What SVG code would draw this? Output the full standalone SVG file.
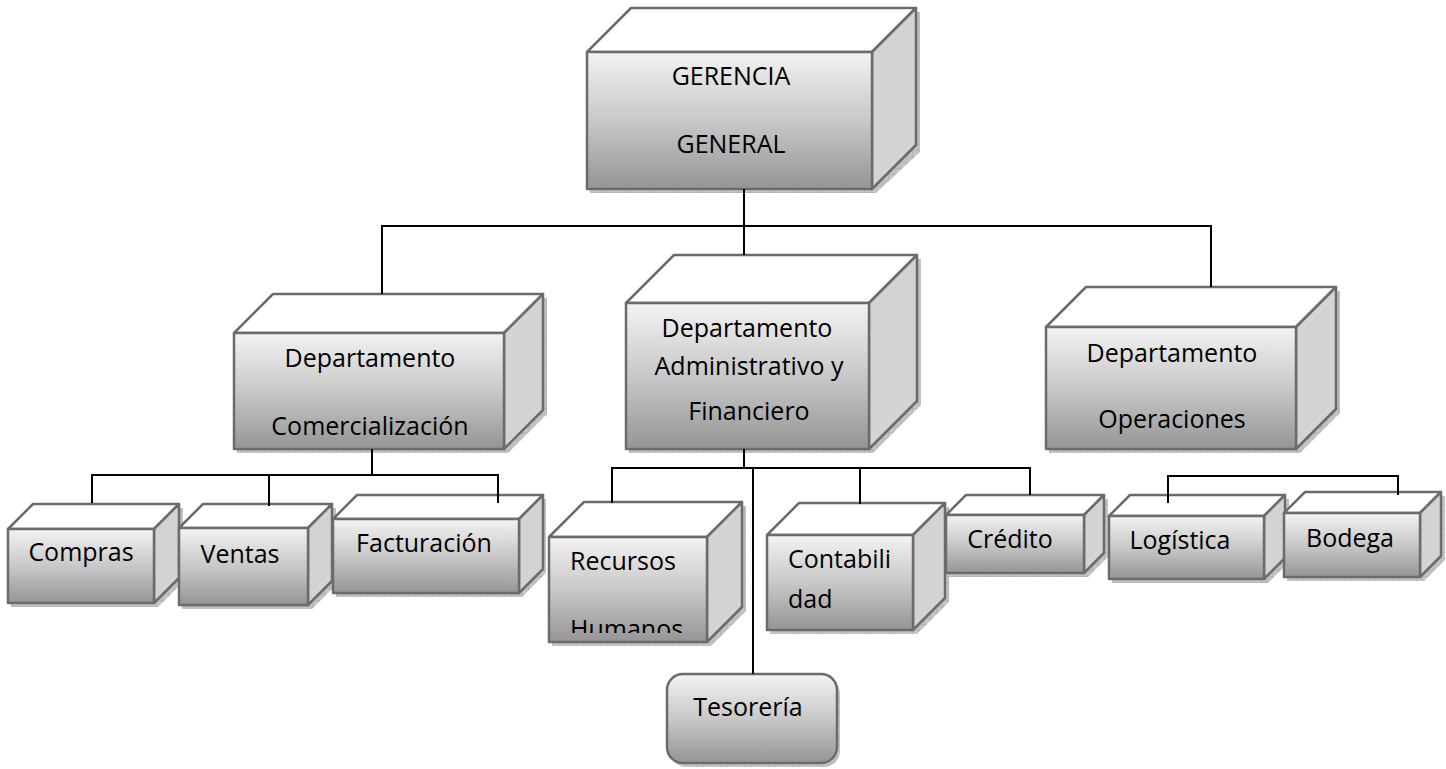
<svg xmlns="http://www.w3.org/2000/svg" width="1446" height="769" viewBox="0 0 1446 769">
<defs>
<linearGradient id="front" x1="0" y1="0" x2="0" y2="1">
<stop offset="0" stop-color="#f3f3f3"/>
<stop offset="0.5" stop-color="#c8c8c8"/>
<stop offset="1" stop-color="#959595"/>
</linearGradient>
<pattern id="hatch" width="6" height="6" patternUnits="userSpaceOnUse">
<rect width="6" height="6" fill="#c4c4c4"/>
<path d="M0 0H6M0 0V6" stroke="#a8a8a8" stroke-width="1"/>
</pattern>
<clipPath id="clipRH"><rect x="549" y="537" width="158" height="96"/></clipPath>
</defs>
<style>
.front{fill:url(#front);stroke:#6b6b6b;stroke-width:2.5;stroke-linejoin:round}
.top{fill:#ffffff;stroke:#6b6b6b;stroke-width:2.5;stroke-linejoin:round}
.side{fill:#d3d3d3;stroke:#6b6b6b;stroke-width:2.5;stroke-linejoin:round}
.shadow{fill:url(#hatch);stroke:none}
.t{font-family:"Open Sans","Liberation Sans",sans-serif;font-size:25px;fill:#000}
.c{text-anchor:middle}
.conn{fill:none;stroke:#000;stroke-width:2}
</style>

<g id="gerencia">
<polygon class="shadow" points="590,56 632,12 920,12 920,152 876,193 590,193"/>
<polygon class="top" points="587,52 631,8 916,8 872,52"/>
<polygon class="side" points="872,52 916,8 916,145 872,189"/>
<rect class="front" x="587" y="52" width="285" height="137"/>
<text class="t c" x="731" y="85">GERENCIA</text>
<text class="t c" x="731" y="153">GENERAL</text>
</g>

<g id="comercializacion">
<polygon class="shadow" points="237,337 276,298 547,298 547,414 508,453 237,453"/>
<polygon class="top" points="234,333 273,294 543,294 504,333"/>
<polygon class="side" points="504,333 543,294 543,410 504,449"/>
<rect class="front" x="234" y="333" width="270" height="116"/>
<text class="t c" x="370" y="367">Departamento</text>
<text class="t c" x="370" y="435">Comercialización</text>
</g>

<g id="administrativo">
<polygon class="shadow" points="629,307 677,259 921,259 921,405 873,453 629,453"/>
<polygon class="top" points="626,303 674,255 917,255 869,303"/>
<polygon class="side" points="869,303 917,255 917,401 869,449"/>
<rect class="front" x="626" y="303" width="243" height="146"/>
<text class="t c" x="747" y="337">Departamento</text>
<text class="t c" x="749" y="375">Administrativo y</text>
<text class="t c" x="749" y="420">Financiero</text>
</g>

<g id="operaciones">
<polygon class="shadow" points="1049,331 1089,291 1340,291 1340,413 1300,453 1049,453"/>
<polygon class="top" points="1046,327 1086,287 1336,287 1296,327"/>
<polygon class="side" points="1296,327 1336,287 1336,409 1296,449"/>
<rect class="front" x="1046" y="327" width="250" height="122"/>
<text class="t c" x="1172" y="362">Departamento</text>
<text class="t c" x="1172" y="428">Operaciones</text>
</g>

<g id="compras">
<polygon class="shadow" points="11,533 36,508 183,508 183,582 158,607 11,607"/>
<polygon class="top" points="8,529 33,504 179,504 154,529"/>
<polygon class="side" points="154,529 179,504 179,578 154,603"/>
<rect class="front" x="8" y="529" width="146" height="74"/>
<text class="t c" x="81" y="561">Compras</text>
</g>

<g id="ventas">
<polygon class="shadow" points="182,532 206,508 336,508 336,585 312,609 182,609"/>
<polygon class="top" points="179,528 203,504 332,504 308,528"/>
<polygon class="side" points="308,528 332,504 332,581 308,605"/>
<rect class="front" x="179" y="528" width="129" height="77"/>
<text class="t c" x="240" y="563">Ventas</text>
</g>

<g id="facturacion">
<polygon class="shadow" points="336,523 360,499 546,499 546,573 522,597 336,597"/>
<polygon class="top" points="333,519 357,495 543,495 519,519"/>
<polygon class="side" points="519,519 543,495 543,569 519,593"/>
<rect class="front" x="333" y="519" width="186" height="74"/>
<text class="t c" x="424" y="552">Facturación</text>
</g>

<g id="recursos">
<polygon class="shadow" points="552,541 587,506 746,506 746,611 711,646 552,646"/>
<polygon class="top" points="549,537 584,502 742,502 707,537"/>
<polygon class="side" points="707,537 742,502 742,607 707,642"/>
<rect class="front" x="549" y="537" width="158" height="105"/>
<g clip-path="url(#clipRH)">
<text class="t" x="570" y="570">Recursos</text>
<text class="t" x="570" y="638">Humanos</text>
</g>
</g>

<g id="contabilidad">
<polygon class="shadow" points="770,539 802,507 949,507 949,602 917,634 770,634"/>
<polygon class="top" points="767,535 799,503 945,503 913,535"/>
<polygon class="side" points="913,535 945,503 945,598 913,630"/>
<rect class="front" x="767" y="535" width="146" height="95"/>
<text class="t" x="788" y="568">Contabili</text>
<text class="t" x="788" y="608">dad</text>
</g>

<g id="credito">
<polygon class="shadow" points="949,519 969,499 1108,499 1108,557 1088,577 949,577"/>
<polygon class="top" points="946,515 966,495 1104,495 1084,515"/>
<polygon class="side" points="1084,515 1104,495 1104,553 1084,573"/>
<rect class="front" x="946" y="515" width="138" height="58"/>
<text class="t c" x="1010" y="548">Crédito</text>
</g>

<g id="logistica">
<polygon class="shadow" points="1112,520 1133,499 1289,499 1289,562 1268,583 1112,583"/>
<polygon class="top" points="1109,516 1130,495 1285,495 1264,516"/>
<polygon class="side" points="1264,516 1285,495 1285,558 1264,579"/>
<rect class="front" x="1109" y="516" width="155" height="63"/>
<text class="t c" x="1180" y="549">Logística</text>
</g>

<g id="bodega">
<polygon class="shadow" points="1287,517 1308,496 1445,496 1445,560 1424,581 1287,581"/>
<polygon class="top" points="1284,513 1305,492 1441,492 1420,513"/>
<polygon class="side" points="1420,513 1441,492 1441,556 1420,577"/>
<rect class="front" x="1284" y="513" width="136" height="64"/>
<text class="t c" x="1350" y="547">Bodega</text>
</g>

<g id="tesoreria">
<rect class="shadow" x="670" y="678" width="170" height="89" rx="16"/>
<rect class="front" x="667" y="674" width="170" height="89" rx="16"/>
<text class="t c" x="748" y="716">Tesorería</text>
</g>

<g id="connectors">
<path class="conn" d="M744 189V226M382 294V226H1211V287M744 226V255"/>
<path class="conn" d="M372 449V475M92 503V475H498V503M269 475V506"/>
<path class="conn" d="M744 449V468M612 503V468H1030V495M753 468V674M860 468V504"/>
<path class="conn" d="M1168 503V476H1398V495"/>
</g>
</svg>
